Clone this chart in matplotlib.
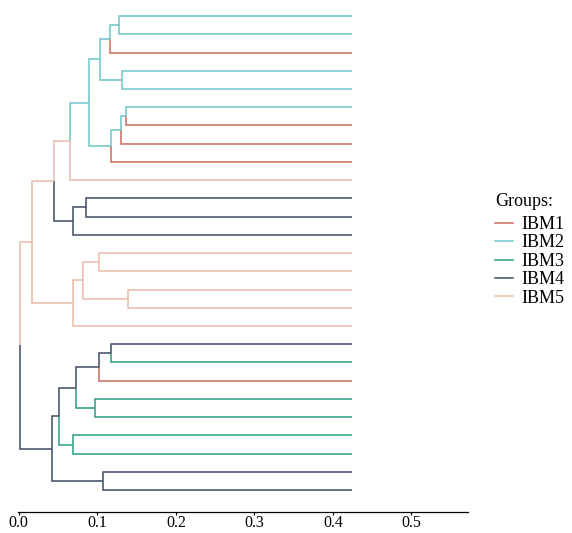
import matplotlib
matplotlib.use('agg')
import matplotlib.pyplot as plt
from matplotlib.lines import Line2D
import numpy as np

plt.rcParams['font.family'] = ['Liberation Serif', 'DejaVu Serif']

groups = ['IBM1', 'IBM2', 'IBM3', 'IBM4', 'IBM5']
group_colors = {'IBM1': '#cc6a5c',
                'IBM2': '#6cc4c8',
                'IBM3': '#2a9d82',
                'IBM4': '#3e4a66',
                'IBM5': '#e9bba8'}

# group of each leaf, top to bottom
leaf_groups = ['IBM2', 'IBM2', 'IBM1', 'IBM2', 'IBM2', 'IBM2', 'IBM1', 'IBM1', 'IBM1', 'IBM5',
               'IBM4', 'IBM4', 'IBM4',
               'IBM5', 'IBM5', 'IBM5', 'IBM5', 'IBM5',
               'IBM4', 'IBM3', 'IBM1', 'IBM3', 'IBM3', 'IBM3', 'IBM3', 'IBM4', 'IBM4']
leaf_dist = 0.424

# merges (linkage style): children ids, distance from root, group of the merged node
merge_left = [0, 27, 3, 28, 5, 31, 32, 30, 34, 10, 36, 35, 13, 15, 39, 41, 38,
              18, 44, 21, 45, 23, 47, 25, 49, 43]
merge_right = [1, 2, 4, 29, 6, 7, 8, 33, 9, 11, 12, 37, 14, 16, 40, 17, 42,
               19, 20, 22, 46, 24, 48, 26, 50, 51]
merge_dist = [0.127, 0.116, 0.132, 0.103, 0.136, 0.130, 0.118, 0.090, 0.065,
              0.085, 0.069, 0.045, 0.102, 0.139, 0.082, 0.069, 0.017,
              0.118, 0.102, 0.097, 0.073, 0.069, 0.051, 0.107, 0.042, 0.002]
merge_groups = ['IBM2', 'IBM2', 'IBM2', 'IBM2', 'IBM2', 'IBM2', 'IBM2', 'IBM2', 'IBM5',
                'IBM4', 'IBM4', 'IBM5', 'IBM5', 'IBM5', 'IBM5', 'IBM5', 'IBM5',
                'IBM4', 'IBM4', 'IBM3', 'IBM4', 'IBM3', 'IBM4', 'IBM4', 'IBM4', 'IBM5']

n = len(leaf_groups)
xs = [leaf_dist] * n
ys = list(np.arange(n, dtype=float))
node_groups = list(leaf_groups)
for l, r, d, g in zip(merge_left, merge_right, merge_dist, merge_groups):
    xs.append(d)
    ys.append((ys[l] + ys[r]) / 2.0)
    node_groups.append(g)

fig = plt.figure(figsize=(5.72, 5.33), dpi=100)
ax = fig.add_axes([18 / 572, 1 - 512 / 533, 450 / 572, 512 / 533])

# each edge gets the colour of its child node
for i, (l, r) in enumerate(zip(merge_left, merge_right)):
    p = n + i
    for c in (l, r):
        ax.plot([xs[p], xs[p], xs[c]], [ys[p], ys[c], ys[c]],
                color=group_colors[node_groups[c]], lw=1.1,
                solid_joinstyle='miter', solid_capstyle='butt')

ax.set_xlim(-0.001, 0.572)
ax.set_ylim(n + 0.2, -0.88)
ax.set_xticks([0.0, 0.1, 0.2, 0.3, 0.4, 0.5])
ax.set_xticklabels(['0.0', '0.1', '0.2', '0.3', '0.4', '0.5'], fontsize=11.5)
ax.tick_params(axis='x', length=2, width=0.8, pad=0.3)
ax.set_yticks([])
for s in ['left', 'top', 'right']:
    ax.spines[s].set_visible(False)
ax.spines['bottom'].set_linewidth(0.9)

fig.text(495 / 572, 1 - 206 / 533, 'Groups:', fontsize=13, va='baseline', ha='left')
handles = [Line2D([0], [0], color=group_colors[g], lw=1.1) for g in groups]
leg = fig.legend(handles, groups, loc='upper left',
                 bbox_to_anchor=(495 / 572, 1 - 216 / 533), frameon=False,
                 fontsize=13, handlelength=1.0, handletextpad=0.48,
                 labelspacing=0.08, borderpad=0, borderaxespad=0)

fig.savefig('out.png', dpi=100)
